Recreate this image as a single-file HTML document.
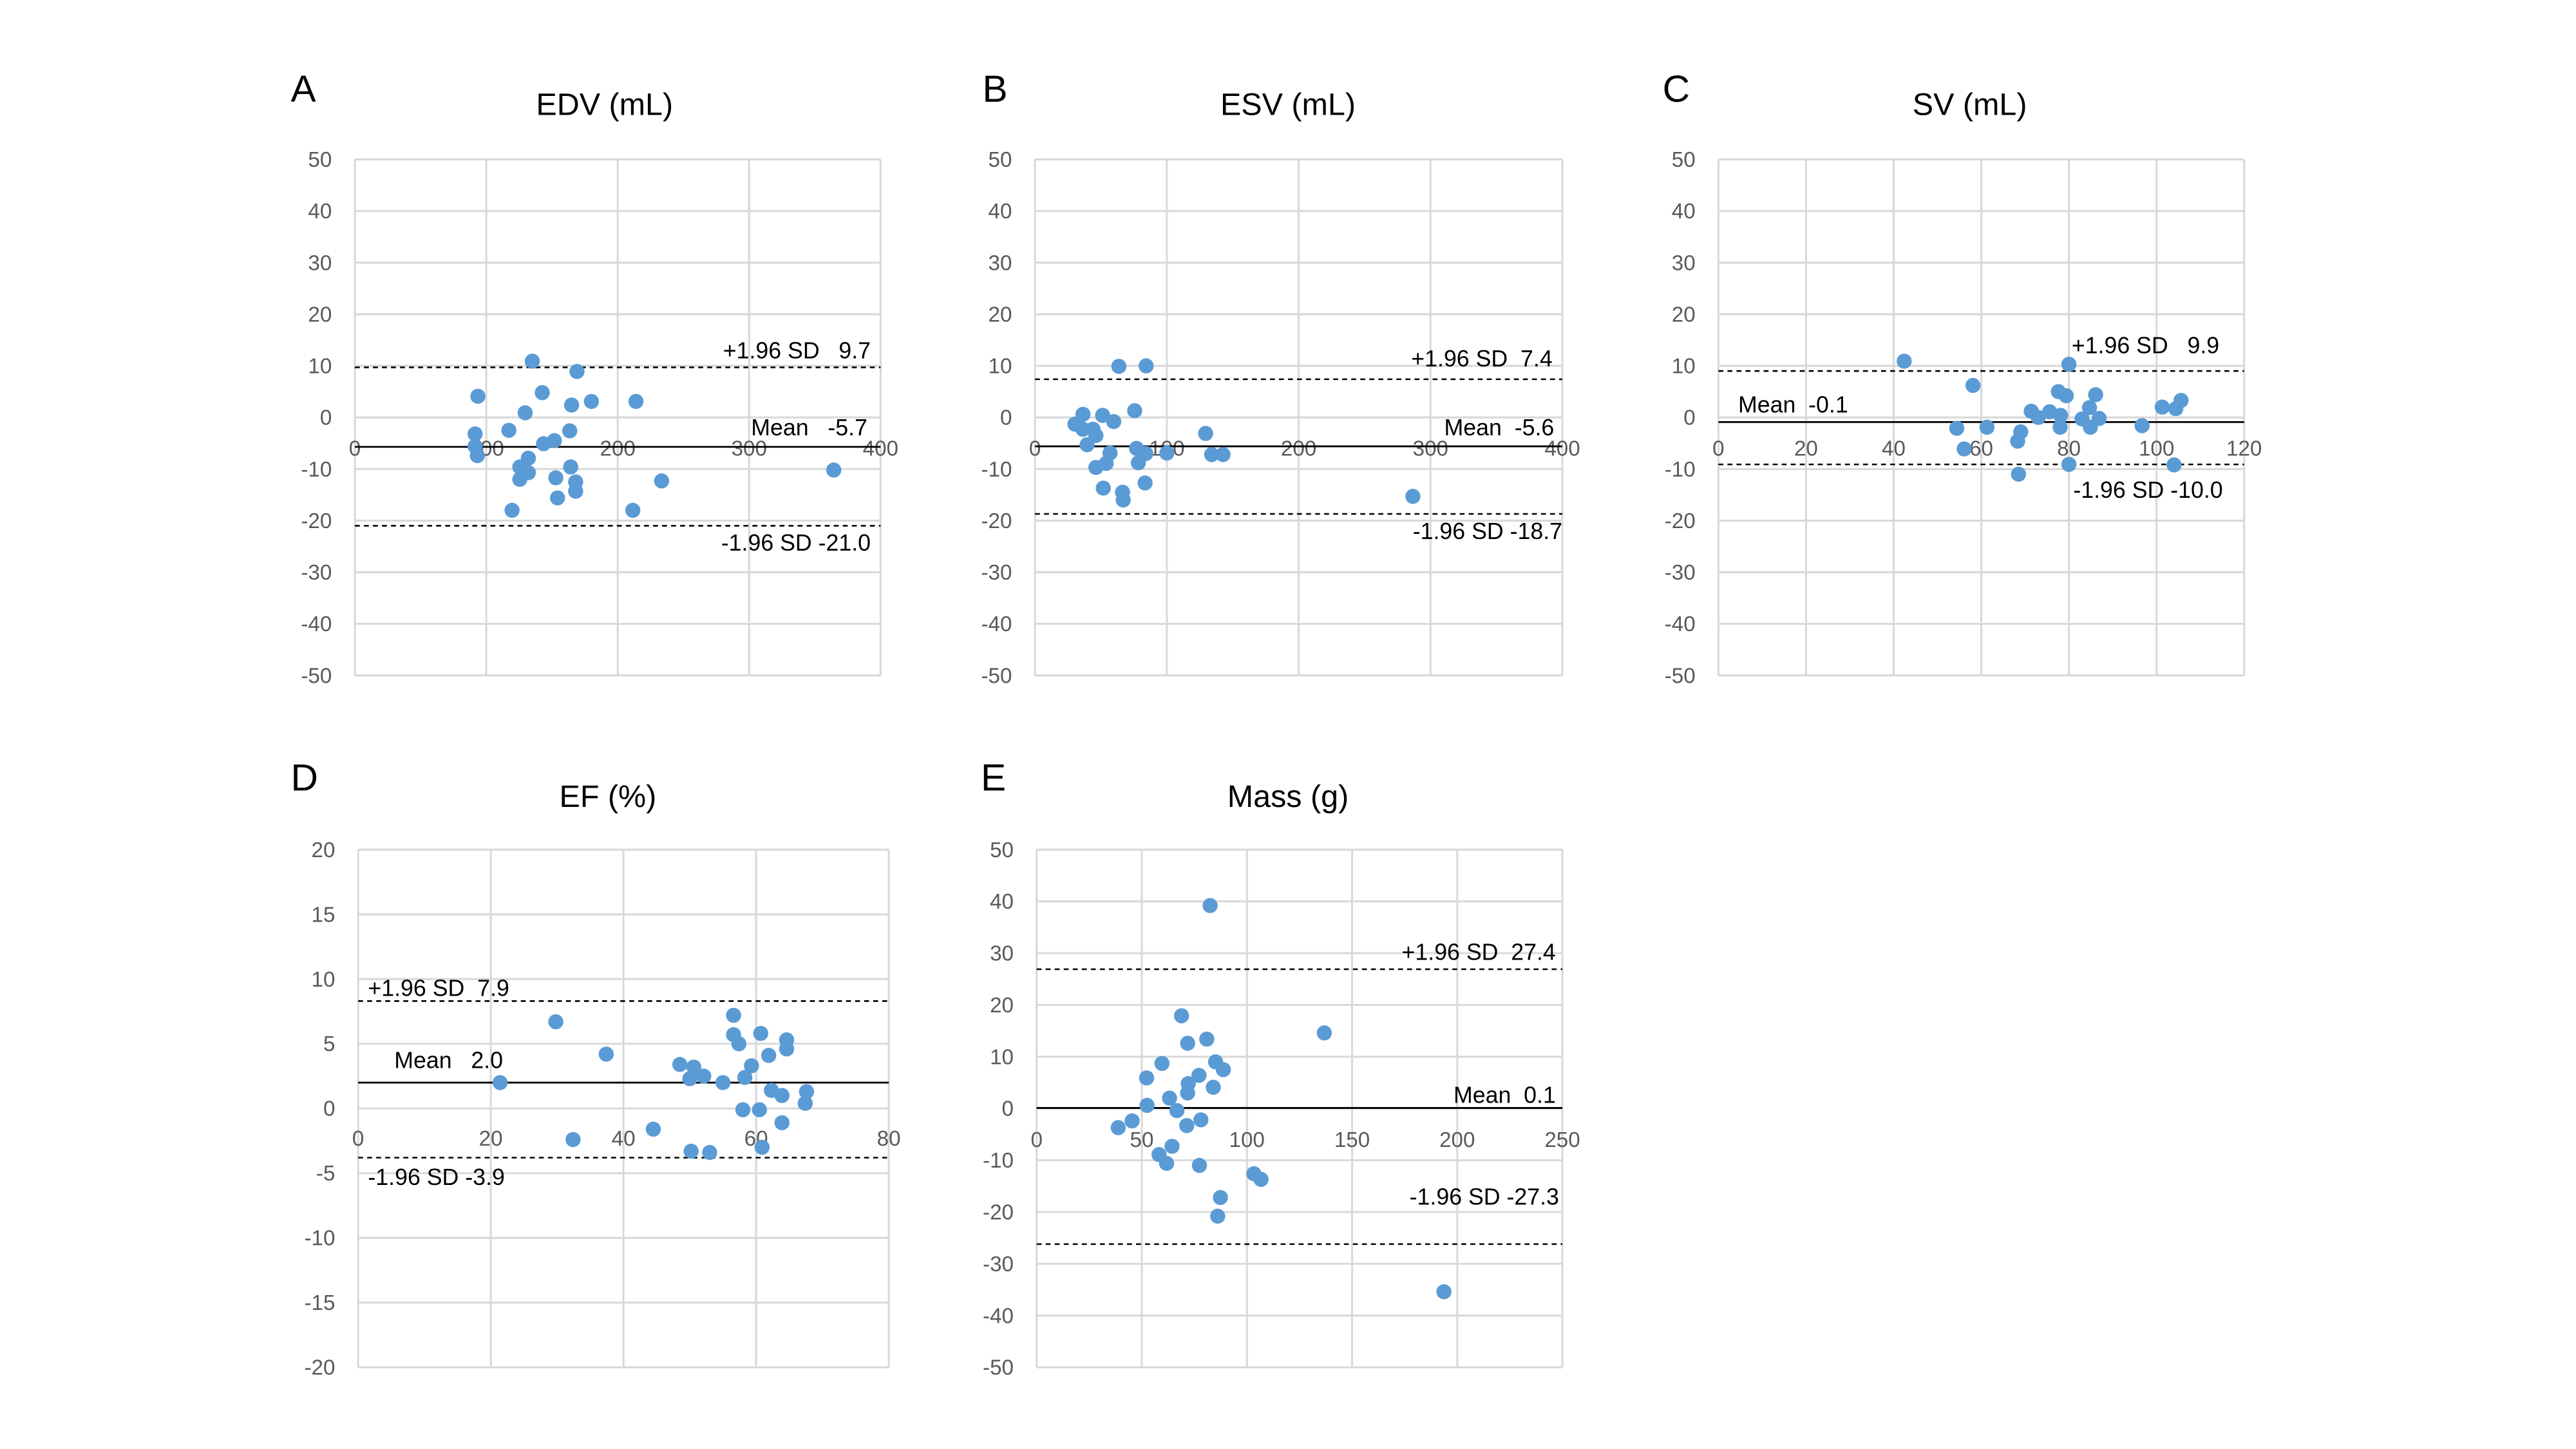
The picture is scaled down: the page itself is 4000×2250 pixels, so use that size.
<!DOCTYPE html>
<html><head><meta charset="utf-8"><style>
html,body{margin:0;padding:0;background:#fff}
svg{display:block}
text{font-family:"Liberation Sans",sans-serif}
</style></head><body>
<svg id="fig" width="4000" height="2250" viewBox="0 0 1568 881.7" preserveAspectRatio="none" xmlns="http://www.w3.org/2000/svg"></svg>
<script>
// ---- Data (x = mean, y = difference) ----
const edvX=[93.6,91.5,91.5,93.2,135,142.6,129.6,117.2,169,164.9,180,213.9,163.5,143.6,151.8,132,125.5,132,125.5,152.9,164.2,168,168,154.2,119.6,211.5,233.4,364.4];
const edvY=[4.1,-3.2,-5.6,-7.4,10.9,4.8,0.9,-2.5,8.9,2.4,3.1,3.1,-2.6,-5.1,-4.5,-7.9,-9.6,-10.7,-12,-11.7,-9.6,-12.5,-14.3,-15.6,-18,-18,-12.3,-10.2];
const esvX=[63.6,84.3,75.6,36.4,51.3,59.7,30.3,36.4,44,46.2,39.5,129.4,77,84,56.9,100,134,142.6,54,78.4,46.2,83.5,51.8,66.4,66.9,286.6];
const esvY=[9.9,10,1.3,0.6,0.4,-0.8,-1.3,-2.3,-2.3,-3.5,-5.3,-3.1,-6.0,-7,-6.9,-6.9,-7.2,-7.2,-8.9,-8.8,-9.7,-12.7,-13.7,-14.5,-16,-15.3];
const svX=[42.4,80,58.1,77.6,79.4,86.1,105.6,101.3,104.4,84.7,71.4,75.6,73,78.1,83,86.9,84.9,78,54.4,61.3,96.7,69,68.3,56.1,80,104,68.5];
const svY=[10.9,10.3,6.2,5.0,4.2,4.4,3.3,2.0,1.7,1.9,1.2,1.1,0,0.4,-0.3,-0.2,-1.9,-1.9,-2.1,-1.9,-1.6,-2.8,-4.6,-6.1,-9.1,-9.2,-11];
const efX=[29.8,37.4,21.4,32.4,44.5,48.5,50,50.6,52.1,50.2,53,55,56.6,56.6,57.4,58.3,59.3,58,60.7,60.5,60.9,61.9,62.3,63.9,63.9,64.6,64.6,67.6,67.4];
const efY=[6.7,4.2,2.0,-2.4,-1.6,3.4,2.3,3.2,2.5,-3.3,-3.4,2.0,7.2,5.7,5.0,2.4,3.3,-0.1,5.8,-0.1,-3.0,4.1,1.4,1.0,-1.1,5.3,4.6,1.3,0.4];
const massX=[82.5,136.8,68.9,71.8,80.9,59.6,85.1,88.8,52.3,77.2,72.1,84.0,71.8,63.2,52.5,66.7,78.1,45.4,71.4,38.8,64.4,58.2,61.8,77.4,103.3,106.7,87.4,86.1,193.7];
const massY=[39.2,14.6,17.9,12.6,13.4,8.7,9.0,7.5,5.9,6.4,4.8,4.1,3.0,2.0,0.6,-0.4,-2.2,-2.4,-3.3,-3.7,-7.3,-8.9,-10.6,-11,-12.6,-13.7,-17.2,-20.8,-35.4];
// limits of agreement drawn values [upper, mean, lower]
const edvLines=[9.7,-5.7,-21.0];
const esvLines=[7.4,-5.6,-18.7];
const svLines=[9.0,-0.9,-9.1];
const efLines=[8.3,2.0,-3.8];
const massLines=[26.9,0.1,-26.2];

const NS="http://www.w3.org/2000/svg";
const svg=document.getElementById('fig');
function mk(tag,attrs,parent){const e=document.createElementNS(NS,tag);for(const k in attrs)e.setAttribute(k,attrs[k]);(parent||svg).appendChild(e);return e;}

const panels=[
 {key:'a',letter:'A',title:'EDV (mL)',L:216,T:97,R:536,B:411,x0:0,x1:400,xs:100,y0:-50,y1:50,ys:10,xly:-6,X:edvX,Y:edvY,lines:edvLines,
  labels:[['+1.96 SD   9.7',530,218,'end'],['Mean   -5.7',528,265,'end'],['-1.96 SD -21.0',530,335,'end']],lx:177,ly:62,tx:368,ty:70},
 {key:'b',letter:'B',title:'ESV (mL)',L:630,T:97,R:951,B:411,x0:0,x1:400,xs:100,y0:-50,y1:50,ys:10,xly:-6,X:esvX,Y:esvY,lines:esvLines,
  labels:[['+1.96 SD  7.4',945,223,'end'],['Mean  -5.6',946,265,'end'],['-1.96 SD -18.7',951,328,'end']],lx:598,ly:62,tx:784,ty:70},
 {key:'c',letter:'C',title:'SV (mL)',L:1046,T:97,R:1366,B:411,x0:0,x1:120,xs:20,y0:-50,y1:50,ys:10,xly:-6,X:svX,Y:svY,lines:svLines,
  labels:[['+1.96 SD   9.9',1261,215,'start'],['Mean  -0.1',1058,251,'start'],['-1.96 SD -10.0',1262,303,'start']],lx:1012,ly:62,tx:1199,ty:70},
 {key:'d',letter:'D',title:'EF (%)',L:218,T:517,R:541,B:832,x0:0,x1:80,xs:20,y0:-20,y1:20,ys:5,xly:-2.3,X:efX,Y:efY,lines:efLines,
  labels:[['+1.96 SD  7.9',224,606,'start'],['Mean   2.0',240,650,'start'],['-1.96 SD -3.9',224,721,'start']],lx:177,ly:481,tx:370,ty:491},
 {key:'e',letter:'E',title:'Mass (g)',L:631,T:517,R:951,B:832,x0:0,x1:250,xs:50,y0:-50,y1:50,ys:10,xly:-6,X:massX,Y:massY,lines:massLines,
  labels:[['+1.96 SD  27.4',947,584,'end'],['Mean  0.1',947,671,'end'],['-1.96 SD -27.3',949,733,'end']],lx:597,ly:481,tx:784,ty:491}
];

panels.forEach(p=>{
  const g=mk('g',{});
  
  
  const sx=v=>p.L+(v-p.x0)/(p.x1-p.x0)*(p.R-p.L);
  const sy=v=>p.B-(v-p.y0)/(p.y1-p.y0)*(p.B-p.T);
  const lt=mk('text',{x:p.lx,y:p.ly,'font-size':23,fill:'#000'},g);lt.textContent=p.letter;
  
  
  const tt=mk('text',{x:p.tx,y:p.ty,'font-size':19,fill:'#000','text-anchor':'middle'},g);tt.textContent=p.title;
  
  
  for(let v=p.y0;v<=p.y1+1e-9;v+=p.ys){
    const ln=mk('line',{x1:p.L,x2:p.R,y1:sy(v),y2:sy(v),stroke:'#d9d9d9','stroke-width':1.2},g);
    
    
    const t=mk('text',{x:p.L-14,y:sy(v)+4.5,'font-size':13,fill:'#595959','text-anchor':'end'},g);t.textContent=String(Math.round(v));
    
    
  }
  for(let v=p.x0;v<=p.x1+1e-9;v+=p.xs){
    const ln=mk('line',{x1:sx(v),x2:sx(v),y1:p.T,y2:p.B,stroke:'#d9d9d9','stroke-width':1.2},g);
    
    
    const t=mk('text',{x:sx(v),y:sy(p.xly)+4.5,'font-size':13,fill:'#595959','text-anchor':'middle'},g);t.textContent=String(v);
    
    
  }
  const up=mk('line',{x1:p.L,x2:p.R,y1:sy(p.lines[0]),y2:sy(p.lines[0]),stroke:'#000','stroke-width':1,'stroke-dasharray':'3,2.5'},g);
  
  
  const mn=mk('line',{x1:p.L,x2:p.R,y1:sy(p.lines[1]),y2:sy(p.lines[1]),stroke:'#000','stroke-width':1.1},g);
  
  
  const lo=mk('line',{x1:p.L,x2:p.R,y1:sy(p.lines[2]),y2:sy(p.lines[2]),stroke:'#000','stroke-width':1,'stroke-dasharray':'3,2.5'},g);
  
  
  p.X.forEach((xv,i)=>{
    const c=mk('circle',{cx:sx(xv),cy:sy(p.Y[i]),r:4.6,fill:'#5b9bd5'},g);
    
    
  });
  const names=['upper-limit-label','mean-label','lower-limit-label'];
  p.labels.forEach((l,i)=>{
    const t=mk('text',{x:l[1],y:l[2],'font-size':14,fill:'#000','text-anchor':l[3]},g);
    t.setAttribute('xml:space','preserve');
    t.style.whiteSpace='pre';
    t.textContent=l[0];
    
    
  });
});
</script>
</body></html>
